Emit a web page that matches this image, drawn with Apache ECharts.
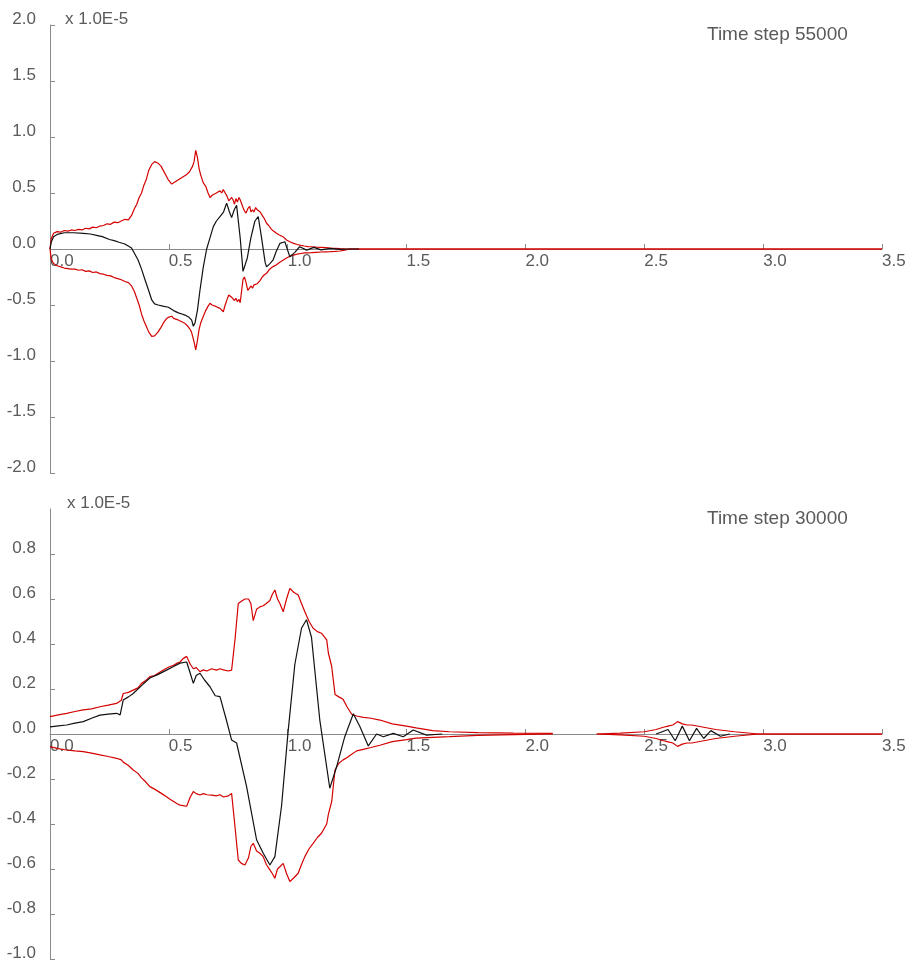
<!DOCTYPE html>
<html>
<head>
<meta charset="utf-8">
<script src="https://cdn.jsdelivr.net/npm/echarts@6/dist/echarts.min.js"></script>
<style>
html,body{margin:0;padding:0;background:#fff;}
#chart{width:910px;height:962px;}
</style>
</head>
<body>
<div id="chart"></div>
<script>
// ---------- data (units of 1.0E-5) ----------
var xTicks = [0.0, 0.5, 1.0, 1.5, 2.0, 2.5, 3.0, 3.5];
var topYTicks = [-2.0, -1.5, -1.0, -0.5, 0.0, 0.5, 1.0, 1.5, 2.0];
var botYTicks = [-1.0, -0.8, -0.6, -0.4, -0.2, 0.0, 0.2, 0.4, 0.6, 0.8];

// Time step 55000 : envelope (red, upper / lower) and signal (black)
var topEnvX = [0.000,0.005,0.015,0.03,0.045,0.06,0.075,0.09,0.105,0.12,
  0.135,0.15,0.165,0.18,0.195,0.21,0.225,0.24,0.255,0.27,
  0.285,0.30,0.315,0.33,0.343,0.355,0.365,0.375,0.385,0.395,
  0.405,0.415,0.428,0.44,0.455,0.467,0.477,0.487,0.497,0.505,
  0.512,0.52,0.527,0.535,0.542,0.55,0.557,0.565,0.572,0.58,
  0.587,0.595,0.60,0.606,0.613,0.62,0.627,0.634,0.645,0.655,
  0.665,0.673,0.682,0.69,0.70,0.708,0.715,0.722,0.729,0.737,
  0.745,0.752,0.757,0.764,0.77,0.776,0.782,0.788,0.795,0.80,
  0.806,0.812,0.818,0.825,0.832,0.84,0.846,0.852,0.858,0.865,
  0.872,0.876,0.884,0.893,0.902,0.911,0.92,0.93,0.94,0.953,
  0.965,0.98,0.995,1.009,1.025,1.04,1.055,1.07,1.085,1.10,
  1.12,1.14,1.16,1.18,1.20,1.22,1.24,1.26,3.5];
var topUpperY = [0.00,0.09,0.14,0.155,0.15,0.165,0.16,0.17,0.165,0.175,
  0.17,0.185,0.18,0.195,0.19,0.205,0.21,0.225,0.22,0.24,
  0.235,0.25,0.265,0.26,0.30,0.36,0.40,0.46,0.50,0.57,
  0.62,0.70,0.755,0.78,0.765,0.74,0.70,0.66,0.62,0.61,
  0.58,0.585,0.60,0.59,0.62,0.615,0.64,0.63,0.66,0.655,
  0.69,0.70,0.74,0.78,0.88,0.82,0.72,0.66,0.59,0.56,
  0.50,0.46,0.48,0.47,0.50,0.49,0.52,0.50,0.53,0.50,
  0.47,0.43,0.42,0.46,0.44,0.40,0.45,0.42,0.46,0.44,
  0.455,0.37,0.34,0.32,0.36,0.38,0.33,0.35,0.33,0.37,
  0.35,0.365,0.33,0.30,0.27,0.23,0.21,0.18,0.16,0.14,
  0.125,0.11,0.08,0.065,0.05,0.04,0.033,0.027,0.022,0.02,
  0.017,0.015,0.012,0.008,0.006,0.003,0.001,0.0,0.0];
var topLowerY = [0.00,-0.09,-0.13,-0.15,-0.16,-0.17,-0.175,-0.18,-0.18,-0.19,
  -0.185,-0.20,-0.195,-0.21,-0.205,-0.22,-0.225,-0.235,-0.24,-0.255,
  -0.265,-0.275,-0.29,-0.30,-0.33,-0.38,-0.44,-0.50,-0.58,-0.64,
  -0.69,-0.74,-0.78,-0.775,-0.74,-0.70,-0.66,-0.63,-0.61,-0.60,
  -0.60,-0.62,-0.61,-0.63,-0.62,-0.645,-0.64,-0.66,-0.665,-0.69,
  -0.71,-0.74,-0.78,-0.83,-0.90,-0.82,-0.72,-0.66,-0.60,-0.55,
  -0.51,-0.485,-0.50,-0.49,-0.515,-0.50,-0.53,-0.52,-0.56,-0.50,
  -0.45,-0.41,-0.395,-0.43,-0.42,-0.46,-0.44,-0.47,-0.45,-0.48,
  -0.485,-0.27,-0.25,-0.30,-0.37,-0.36,-0.33,-0.35,-0.32,-0.33,
  -0.31,-0.305,-0.28,-0.25,-0.23,-0.217,-0.19,-0.17,-0.155,-0.14,
  -0.12,-0.10,-0.08,-0.065,-0.054,-0.045,-0.04,-0.035,-0.034,-0.033,
  -0.03,-0.027,-0.025,-0.024,-0.022,-0.018,-0.01,0.0,0.0];

var topBlackX = [0.000,0.005,0.015,0.03,0.06,0.10,0.14,0.17,0.20,0.22,0.25,0.27,0.29,0.315,0.343,0.371,0.385,0.40,0.415,0.428,0.44,0.455,0.475,0.498,0.52,0.54,0.555,0.568,0.585,0.596,0.603,0.61,0.62,0.631,0.645,0.659,0.673,0.687,0.70,0.715,0.73,0.743,0.755,0.764,0.775,0.785,0.80,0.812,0.82,0.83,0.845,0.862,0.876,0.89,0.905,0.911,0.925,0.938,0.952,0.967,0.988,1.009,1.03,1.05,1.08,1.11,1.14,1.18,1.22,1.26,1.30];
var topBlackY = [0.00,0.06,0.11,0.13,0.145,0.145,0.14,0.134,0.12,0.11,0.085,0.075,0.06,0.045,0.009,-0.10,-0.18,-0.277,-0.37,-0.455,-0.49,-0.50,-0.51,-0.52,-0.55,-0.57,-0.58,-0.59,-0.61,-0.635,-0.69,-0.66,-0.55,-0.366,-0.16,0.0,0.10,0.20,0.25,0.29,0.33,0.41,0.33,0.28,0.35,0.39,0.10,-0.20,-0.217,-0.08,0.10,0.25,0.29,0.10,-0.12,-0.16,-0.13,-0.10,-0.02,0.05,0.065,-0.07,-0.03,0.02,-0.01,0.015,-0.008,0.005,-0.003,0.0,0.0];

// Time step 30000 : envelope (red, upper / lower) and signal (black)
var botEnvX = [0.000,0.035,0.07,0.105,0.14,0.175,0.21,0.245,0.28,0.30,
  0.308,0.33,0.35,0.37,0.385,0.40,0.42,0.44,0.455,0.47,
  0.49,0.505,0.52,0.535,0.547,0.56,0.575,0.59,0.603,0.615,
  0.631,0.645,0.66,0.68,0.70,0.715,0.73,0.75,0.764,0.778,
  0.792,0.805,0.82,0.835,0.845,0.855,0.869,0.883,0.897,0.91,
  0.925,0.935,0.946,0.957,0.967,0.981,0.995,1.009,1.025,1.044,
  1.058,1.072,1.09,1.107,1.125,1.142,1.164,1.171,1.185,1.199,
  1.215,1.233,1.25,1.269,1.29,1.318,1.35,1.388,1.44,1.50,
  1.54,1.61,1.68,1.80,1.95,2.115,2.20,2.30,2.40,2.50,
  2.55,2.58,2.60,2.62,2.64,2.66,2.68,2.70,2.75,2.80,
  2.88,2.98,3.5];
var botUpperY = [0.077,0.085,0.092,0.10,0.107,0.112,0.121,0.128,0.136,0.15,
  0.18,0.185,0.195,0.205,0.225,0.235,0.255,0.26,0.27,0.28,
  0.292,0.30,0.305,0.315,0.32,0.335,0.345,0.31,0.29,0.295,
  0.277,0.285,0.28,0.29,0.284,0.29,0.285,0.28,0.284,0.418,
  0.58,0.59,0.60,0.60,0.58,0.504,0.554,0.565,0.57,0.58,
  0.593,0.62,0.64,0.60,0.58,0.543,0.60,0.647,0.63,0.618,
  0.58,0.543,0.50,0.47,0.455,0.448,0.418,0.36,0.30,0.176,
  0.165,0.154,0.12,0.088,0.08,0.074,0.07,0.062,0.045,0.035,
  0.027,0.015,0.01,0.006,0.004,0.003,null,0.0,0.004,0.01,
  0.02,0.03,0.035,0.04,0.055,0.045,0.04,0.04,0.03,0.02,
  0.01,0.0,0.0];
var botLowerY = [-0.056,-0.065,-0.071,-0.075,-0.078,-0.085,-0.093,-0.10,-0.108,-0.115,
  -0.125,-0.14,-0.16,-0.175,-0.195,-0.21,-0.234,-0.245,-0.255,-0.265,
  -0.279,-0.29,-0.30,-0.31,-0.316,-0.318,-0.321,-0.28,-0.256,-0.265,
  -0.271,-0.265,-0.27,-0.272,-0.275,-0.27,-0.28,-0.275,-0.264,-0.41,
  -0.56,-0.575,-0.582,-0.55,-0.50,-0.486,-0.52,-0.53,-0.545,-0.58,
  -0.604,-0.62,-0.641,-0.60,-0.59,-0.575,-0.62,-0.656,-0.64,-0.619,
  -0.58,-0.545,-0.51,-0.486,-0.46,-0.441,-0.40,-0.357,-0.30,-0.16,
  -0.13,-0.115,-0.104,-0.09,-0.075,-0.068,-0.06,-0.05,-0.034,-0.025,
  -0.018,-0.015,-0.012,-0.006,-0.003,0.0,null,0.0,-0.004,-0.01,
  -0.02,-0.03,-0.035,-0.04,-0.055,-0.045,-0.04,-0.04,-0.03,-0.02,
  -0.01,0.0,0.0];

var botBlackX = [0.000,0.035,0.07,0.105,0.14,0.175,0.21,0.245,0.28,0.295,0.308,0.33,0.35,0.385,0.42,0.455,0.49,0.52,0.547,0.575,0.59,0.603,0.615,0.631,0.65,0.673,0.695,0.715,0.74,0.764,0.785,0.827,0.869,0.897,0.925,0.946,0.974,1.002,1.03,1.058,1.079,1.10,1.135,1.177,1.205,1.24,1.276,1.304,1.339,1.374,1.402,1.444,1.486,1.528,1.584,1.65,2.0,2.55,2.60,2.63,2.66,2.69,2.72,2.75,2.78,2.82,2.86];
var botBlackY = [0.032,0.036,0.04,0.048,0.055,0.07,0.084,0.088,0.092,0.085,0.151,0.165,0.18,0.215,0.249,0.265,0.284,0.30,0.315,0.32,0.27,0.225,0.26,0.27,0.24,0.21,0.17,0.166,0.07,-0.027,-0.04,-0.234,-0.47,-0.53,-0.582,-0.545,-0.32,0.015,0.31,0.47,0.508,0.43,0.062,-0.241,-0.148,-0.012,0.09,0.032,-0.053,0.0,-0.012,0.003,-0.012,0.018,-0.005,0.0,null,0.0,0.02,-0.03,0.035,-0.03,0.025,-0.02,0.015,-0.01,0.0];

// ---------- build ----------
function pairs(xs, ys) {
  return xs.map(function (x, i) { return [x, ys[i] === null ? '-' : ys[i]]; });
}
var RED = '#d40000';
var BLACK = '#111111';
var AXIS = '#8a8a8a';
var TEXT = '#5a5a5a';
var FONT = 'Liberation Sans, Arial, sans-serif';

function xAxisDef(gridIndex, off) {
  return {
    type: 'value', gridIndex: gridIndex, position: 'bottom', offset: off,
    min: xTicks[0], max: xTicks[xTicks.length - 1], interval: xTicks[1] - xTicks[0],
    axisLine: { show: true, onZero: false, lineStyle: { color: AXIS, width: 1 } },
    axisTick: { show: true, inside: true, length: 5, lineStyle: { color: AXIS } },
    axisLabel: {
      show: true, align: 'left', margin: 4, color: TEXT, fontSize: 17, fontFamily: FONT,
      showMinLabel: true, showMaxLabel: true,
      formatter: function (v) { return v.toFixed(1); }
    },
    splitLine: { show: false }
  };
}
function yAxisDef(gridIndex, ticks, showMax) {
  return {
    type: 'value', gridIndex: gridIndex,
    min: ticks[0], max: showMax ? ticks[ticks.length - 1] : 1.0, interval: Math.round((ticks[1] - ticks[0]) * 10) / 10,
    axisLine: { show: true, onZero: false, lineStyle: { color: AXIS, width: 1 } },
    axisTick: { show: true, inside: true, length: 5, lineStyle: { color: AXIS } },
    axisLabel: {
      show: true, margin: 14, color: TEXT, fontSize: 17, fontFamily: FONT,
      verticalAlign: 'bottom', lineHeight: 12,
      showMinLabel: true, showMaxLabel: showMax,
      formatter: function (v) { return v.toFixed(1); }
    },
    splitLine: { show: false }
  };
}
function lineSeries(name, xi, yi, data, color, z) {
  return {
    name: name, type: 'line', xAxisIndex: xi, yAxisIndex: yi,
    data: data, showSymbol: false, symbol: 'none', connectNulls: false,
    lineStyle: { color: color, width: 1.2 }, itemStyle: { color: color },
    z: z, animation: false, silent: true
  };
}

var chart = echarts.init(document.getElementById('chart'), null, { renderer: 'canvas' });
chart.setOption({
  backgroundColor: '#ffffff',
  animation: false,
  grid: [
    { left: 50, top: 25, width: 832, height: 448, containLabel: false },
    { left: 50, top: 509, width: 832, height: 450, containLabel: false }
  ],
  xAxis: [xAxisDef(0, -224), xAxisDef(1, -225)],
  yAxis: [yAxisDef(0, topYTicks, true), yAxisDef(1, botYTicks, false)],
  graphic: [
    { type: 'text', left: 65, top: 11, style: { text: 'x 1.0E-5', fill: TEXT, font: '17px ' + FONT } },
    { type: 'text', left: 707, top: 25, style: { text: 'Time step 55000', fill: TEXT, font: '19px ' + FONT } },
    { type: 'text', left: 67, top: 495, style: { text: 'x 1.0E-5', fill: TEXT, font: '17px ' + FONT } },
    { type: 'text', left: 707, top: 509, style: { text: 'Time step 30000', fill: TEXT, font: '19px ' + FONT } }
  ],
  series: [
    lineSeries('top upper', 0, 0, pairs(topEnvX, topUpperY), RED, 2),
    lineSeries('top lower', 0, 0, pairs(topEnvX, topLowerY), RED, 2),
    lineSeries('top signal', 0, 0, pairs(topBlackX, topBlackY), BLACK, 3),
    lineSeries('bottom upper', 1, 1, pairs(botEnvX, botUpperY), RED, 2),
    lineSeries('bottom lower', 1, 1, pairs(botEnvX, botLowerY), RED, 2),
    lineSeries('bottom signal', 1, 1, pairs(botBlackX, botBlackY), BLACK, 3)
  ]
});
</script>
</body>
</html>
